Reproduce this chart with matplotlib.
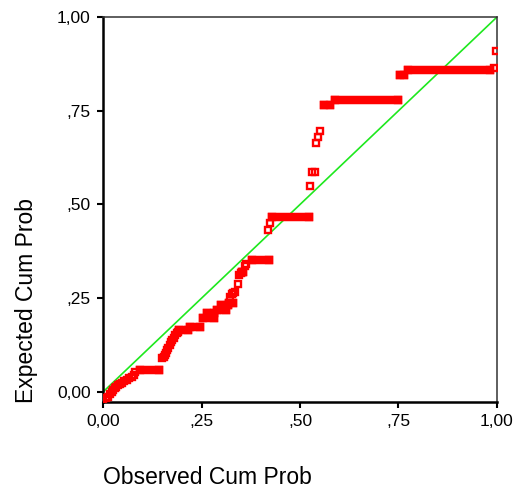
import matplotlib
matplotlib.use("Agg")
import matplotlib.pyplot as plt

plt.rcParams['font.family'] = ['Liberation Sans', 'DejaVu Sans']

# Individual points (observed cum prob, expected cum prob)
pt_obs = [0.0, 0.008, 0.013, 0.018, 0.022, 0.026, 0.030, 0.034, 0.038, 0.043, 0.048,
          0.054, 0.060, 0.067, 0.074, 0.078, 0.081,
          0.150, 0.154, 0.157, 0.160, 0.162, 0.166, 0.170, 0.173, 0.175, 0.179, 0.183, 0.187, 0.190,
          0.322, 0.327, 0.330, 0.335, 0.343, 0.345, 0.350, 0.360, 0.364,
          0.419, 0.424, 0.525, 0.531, 0.537, 0.540, 0.546, 0.551, 0.992, 0.997]
pt_exp = [-0.021, -0.017, -0.013, -0.006, 0.0, 0.005, 0.010, 0.014, 0.019, 0.021, 0.024,
          0.028, 0.032, 0.036, 0.040, 0.046, 0.053,
          0.090, 0.094, 0.099, 0.105, 0.112, 0.118, 0.125, 0.132, 0.139, 0.145, 0.152, 0.156, 0.160,
          0.253, 0.262, 0.264, 0.267, 0.288, 0.312, 0.318, 0.336, 0.342,
          0.432, 0.451, 0.549, 0.587, 0.587, 0.664, 0.680, 0.696, 0.864, 0.909]

# Runs of tied points: expected level, first and last observed value
run_exp = [0.059, 0.165, 0.173, 0.197, 0.210, 0.219, 0.232, 0.237, 0.320, 0.352,
           0.467, 0.765, 0.779, 0.845, 0.859]
run_start = [0.095, 0.192, 0.222, 0.255, 0.263, 0.289, 0.299, 0.319, 0.352, 0.377,
             0.428, 0.560, 0.590, 0.755, 0.775]
run_end = [0.143, 0.217, 0.245, 0.281, 0.281, 0.313, 0.318, 0.331, 0.356, 0.421,
           0.524, 0.575, 0.750, 0.763, 0.982]

x_ticks = [0.0, 0.25, 0.5, 0.75, 1.0]
x_ticklabels = ['0,00', ',25', ',50', ',75', '1,00']
y_ticks = [0.0, 0.25, 0.5, 0.75, 1.0]
y_ticklabels = ['0,00', ',25', ',50', ',75', '1,00']

red = '#ff0000'
MS, MEW = 4.4, 1.7
fig = plt.figure(figsize=(5.2, 4.93), dpi=100)
ax = fig.add_axes([103/520, 1-402/493, 394/520, 385/493])

ax.plot([0, 1], [0, 1], color='#1ee81e', lw=1.2, zorder=1)

for lv, a, b in zip(run_exp, run_start, run_end):
    ax.plot([a, b], [lv, lv], color=red, lw=MS + MEW, solid_capstyle='projecting', zorder=2)
    ax.plot([a, b], [lv, lv], ls='none', marker='s', ms=MS, mfc='none', mec=red, mew=MEW, zorder=2)

ax.plot(pt_obs, pt_exp, ls='none', marker='s', ms=MS, mfc='none', mec=red, mew=MEW, zorder=3)

ax.set_xlim(0, 1)
ax.set_ylim(-0.0267, 1.0)
ax.set_xticks(x_ticks)
ax.set_xticklabels(x_ticklabels)
ax.set_yticks(y_ticks)
ax.set_yticklabels(y_ticklabels)
ax.tick_params(direction='out', length=4, width=1.5, labelsize=12.5, pad=5, colors='black')

for s in ['left', 'bottom']:
    ax.spines[s].set_linewidth(1.8)
    ax.spines[s].set_color('black')
for s in ['top', 'right']:
    ax.spines[s].set_linewidth(1.1)
    ax.spines[s].set_color('#333333')

fig.text(103/520, 1-477/493, 'Observed Cum Prob', fontsize=16.5, ha='left', va='center')
fig.text(27/520, 1-403/493, 'Expected Cum Prob', fontsize=16.5, ha='center', va='bottom', rotation=90)

fig.savefig('out.png', dpi=100)
